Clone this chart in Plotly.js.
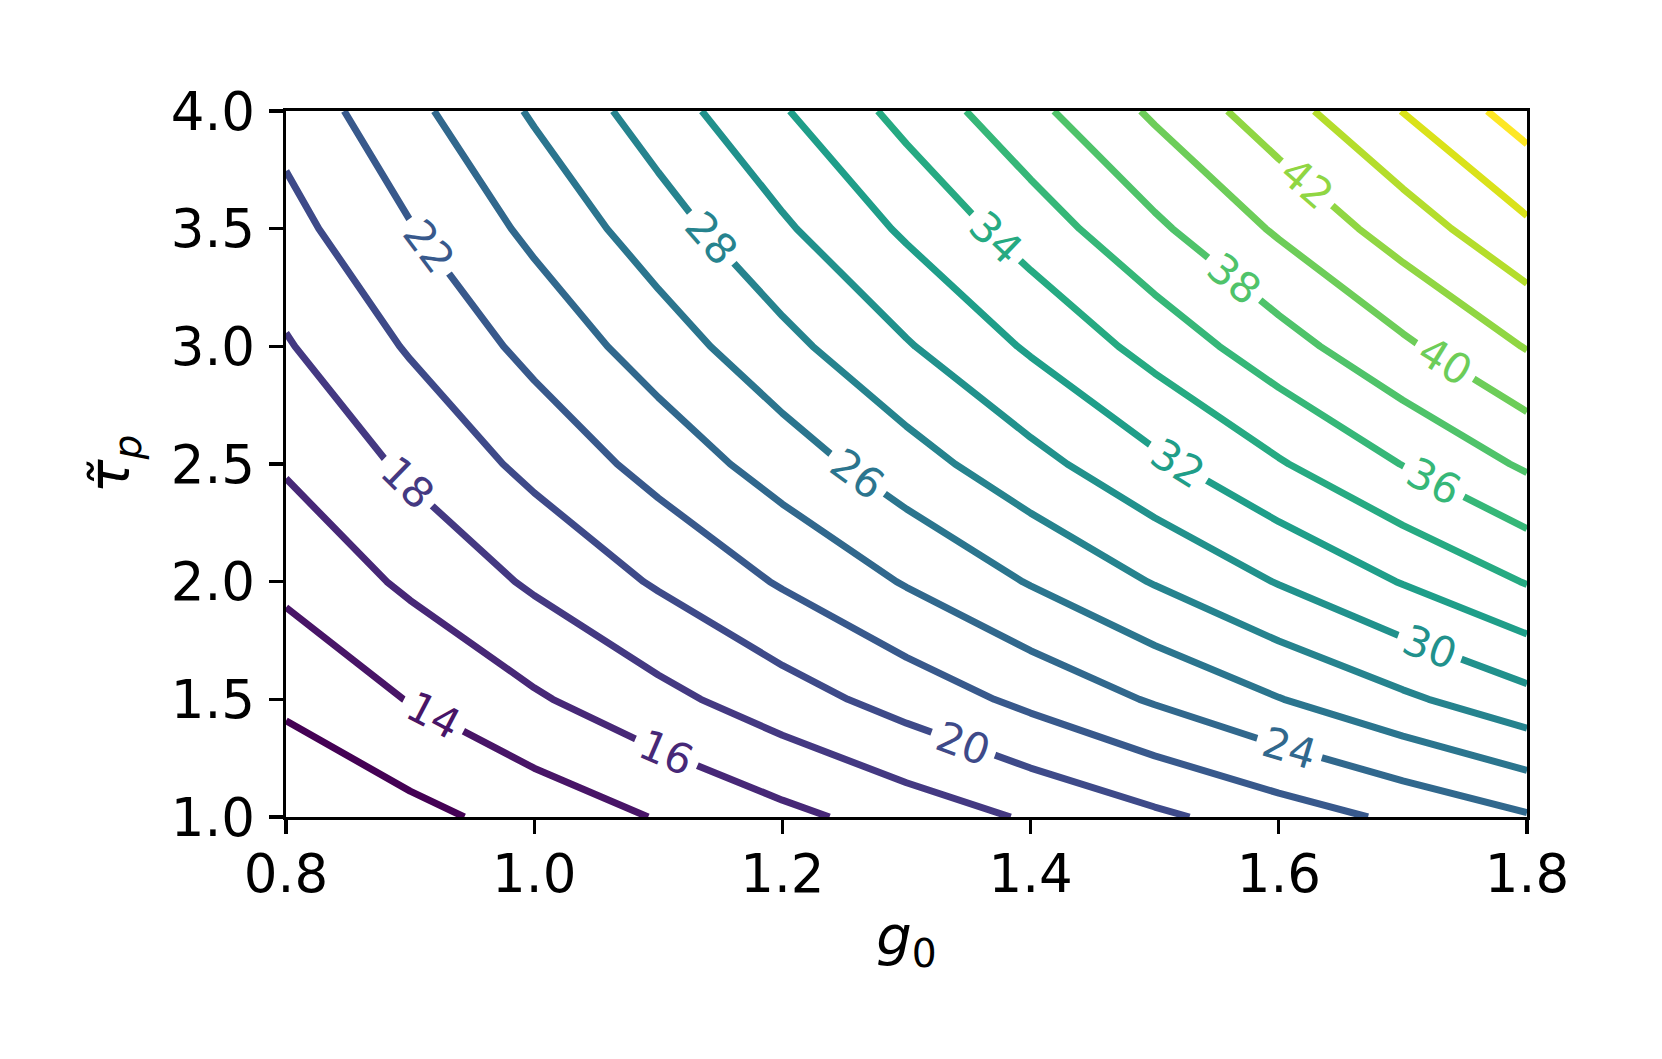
<!DOCTYPE html>
<html>
<head>
<meta charset="utf-8">
<script src="https://cdn.plot.ly/plotly-3.0.1.min.js"></script>
<style>
html,body{margin:0;padding:0;background:#fff;}
#chart{width:1662px;height:1059px;}
</style>
</head>
<body>
<div id="chart"></div>
<script>
// grid of g0 values (x) and tau_p values (y)
const g0 = [0.8, 0.9, 1.0, 1.1, 1.2, 1.3, 1.4, 1.5, 1.6, 1.7, 1.8];
const tauP = [1.0, 1.5, 2.0, 2.5, 3.0, 3.5, 4.0];

// values estimated from the contour positions, one row per tau_p value
const zTau10 = [10.07, 11.41, 12.76, 14.11, 15.48, 16.85, 18.22, 19.61, 21.00, 22.39, 23.79];
const zTau15 = [12.43, 14.09, 15.75, 17.42, 19.11, 20.80, 22.50, 24.21, 25.93, 27.64, 29.37];
const zTau20 = [14.44, 16.36, 18.30, 20.23, 22.20, 24.16, 26.13, 28.12, 30.11, 32.11, 34.11];
const zTau25 = [16.22, 18.37, 20.55, 22.72, 24.93, 27.14, 29.34, 31.58, 33.82, 36.06, 38.31];
const zTau30 = [17.83, 20.20, 22.59, 24.98, 27.41, 29.83, 32.26, 34.72, 37.18, 39.64, 42.12];
const zTau35 = [19.32, 21.89, 24.48, 27.07, 29.70, 32.32, 34.95, 37.62, 40.28, 42.95, 45.64];
const zTau40 = [20.71, 23.46, 26.24, 29.01, 31.83, 34.65, 37.46, 40.32, 43.18, 46.04, 48.92];

// contour levels
const levelStart = 12;
const levelEnd = 48;
const levelStep = 2;

const xTicks = [0.8, 1.0, 1.2, 1.4, 1.6, 1.8];
const yTicks = [1.0, 1.5, 2.0, 2.5, 3.0, 3.5, 4.0];

const viridis = [
  [0, '#440154'], [0.0627, '#48186a'], [0.1255, '#472d7b'], [0.1882, '#424086'],
  [0.2510, '#3b528b'], [0.3137, '#33638d'], [0.3765, '#2c728e'], [0.4392, '#26828e'],
  [0.5020, '#21918c'], [0.5647, '#1fa088'], [0.6275, '#28ae80'], [0.6902, '#3fbc73'],
  [0.7529, '#5ec962'], [0.8157, '#84d44b'], [0.8784, '#addc30'], [0.9412, '#d8e219'],
  [1, '#fde725']
];

const FONT = 'DejaVu Sans, Liberation Sans, sans-serif';

const trace = {
  type: 'contour',
  x: g0,
  y: tauP,
  z: [zTau10, zTau15, zTau20, zTau25, zTau30, zTau35, zTau40],
  colorscale: viridis,
  zmin: levelStart,
  zmax: levelEnd,
  autocontour: false,
  contours: {
    coloring: 'lines',
    start: levelStart,
    end: levelEnd,
    size: levelStep,
    showlabels: true,
    labelfont: {family: FONT, size: 42}
  },
  line: {width: 7, smoothing: 0},
  showscale: false,
  hoverinfo: 'skip'
};

const axisCommon = {
  showline: true,
  mirror: true,
  linecolor: '#000',
  linewidth: 3.3,
  ticks: 'outside',
  ticklen: 14,
  tickwidth: 3.3,
  tickcolor: '#000',
  showgrid: false,
  zeroline: false,
  tickfont: {family: FONT, size: 53, color: '#000'},
  automargin: false
};

const layout = {
  width: 1662,
  height: 1059,
  margin: {l: 286, r: 135, t: 111, b: 242},
  paper_bgcolor: '#fff',
  plot_bgcolor: '#fff',
  showlegend: false,
  xaxis: Object.assign({}, axisCommon, {
    range: [0.8, 1.8],
    tickvals: xTicks,
    ticktext: xTicks.map(v => v.toFixed(1)),
    ticklabelstandoff: -6,
    title: {text: '<i>g</i><sub>0</sub>', font: {family: FONT, size: 56, color: '#000'}, standoff: 14}
  }),
  yaxis: Object.assign({}, axisCommon, {
    range: [1.0, 4.0],
    tickvals: yTicks,
    ticktext: yTicks.map(v => v.toFixed(1)),
    ticklabelstandoff: 3,
    title: {text: '<i>\u03C4\u0303</i><sub><i>p</i></sub>', font: {family: FONT, size: 56, color: '#000'}, standoff: 24}
  })
};

Plotly.newPlot('chart', [trace], layout, {staticPlot: true, displayModeBar: false});
</script>
</body>
</html>
